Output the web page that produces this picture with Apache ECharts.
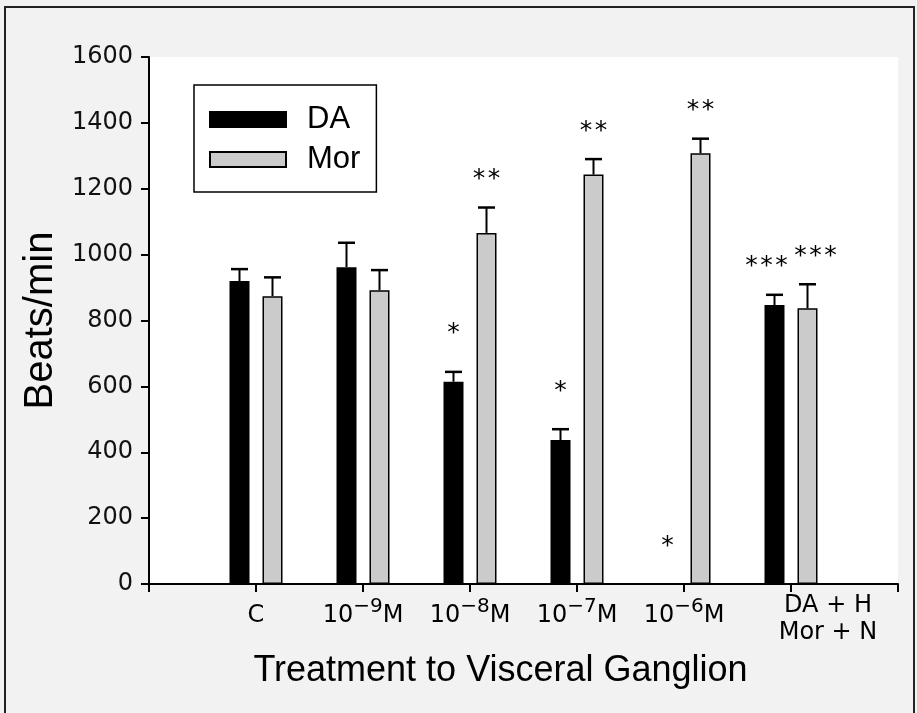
<!DOCTYPE html>
<html><head><meta charset="utf-8">
<script src="https://cdn.jsdelivr.net/npm/echarts@6/dist/echarts.min.js"></script>
<style>html,body{margin:0;padding:0;background:#f2f2f2}#c{width:917px;height:713px}</style>
</head><body><div id="c"></div>
<script>
// ---- data ----
const categories = ['C', '10^-9M', '10^-8M', '10^-7M', '10^-6M', 'DA + H\nMor + N'];
const seriesNames = ['DA', 'Mor'];
const daValues = [920, 962, 614, 437, 0, 847];
const daErrors = [36, 74, 30, 33, 0, 31];
const morValues = [874, 892, 1066, 1243, 1308, 837];
const morErrors = [57, 61, 77, 47, 44, 73];
const daMarks = ['', '', '*', '*', '*', '***'];
const morMarks = ['', '', '**', '**', '**', '***'];
const yTicks = [0, 200, 400, 600, 800, 1000, 1200, 1400, 1600];
const yTitle = 'Beats/min';
const xTitle = 'Treatment to Visceral Ganglion';

// ---- style ----
const TICK_FONT = '"DejaVu Sans", sans-serif';
const TITLE_FONT = '"Liberation Sans", Arial, sans-serif';
const BAR_W = 20, BAR_GAP_PX = 13;
const BAR_OFFSET = (BAR_W + BAR_GAP_PX) / 2;
const CAP_W = 17;
const STAR_FONT = 25, STAR_STEP = 15;

const axisCats = [''].concat(categories, ['']).map(c => {
  if (c.indexOf('\n') >= 0) {
    return { value: c, textStyle: { align: 'center', padding: [1, 0, 0, 74] } };
  }
  return c;
});

function fmtLabel(v) {
  if (!v) return '';
  if (v.indexOf('\n') >= 0) return v.split('\n').map(s => '{m|' + s + '}').join('\n');
  const m = v.match(/^(\d+)\^(-?\d+)(.*)$/);
  if (m) return '{n|' + m[1] + '}{s|' + m[2].replace('-', '\u2212') + '}{n|' + m[3] + '}';
  return '{n|' + v + '}';
}

function pad(arr) { return ['-'].concat(arr, ['-']); }

function errSeries(name, values, errors, marks, side) {
  return {
    type: 'custom', name: name + ' error', z: 5, silent: true,
    data: values.map((v, i) => [i + 1, v, errors[i]]),
    renderItem(params, api) {
      const i = params.dataIndex;
      const x = api.value(0), v = api.value(1), e = api.value(2);
      const base = api.coord([x, v]);
      const top = api.coord([x, v + e]);
      const cx = base[0] + side * BAR_OFFSET;
      const ch = [];
      if (e > 0) {
        ch.push({ type: 'line', shape: { x1: cx, y1: base[1], x2: cx, y2: top[1] }, style: { stroke: '#000', lineWidth: 2 } });
        ch.push({ type: 'line', shape: { x1: cx - CAP_W / 2, y1: top[1], x2: cx + CAP_W / 2, y2: top[1] }, style: { stroke: '#000', lineWidth: 2.5 } });
      }
      const mk = marks[i];
      if (mk) {
        const off = mk.length > 1 ? 28 : 38;
        const n = mk.length;
        // wide groups are nudged outward so neighbouring groups do not collide
        const shift = n >= 3 ? side * 8 : 0;
        for (let k = 0; k < n; k++) {
          const sx = cx + shift + (k - (n - 1) / 2) * STAR_STEP;
          ch.push({ type: 'text', style: { x: sx, y: top[1] - off, text: mk[k], fontSize: STAR_FONT, fontFamily: TICK_FONT, fill: '#000', align: 'center', verticalAlign: 'middle' } });
        }
      }
      return { type: 'group', children: ch };
    }
  };
}

const chart = echarts.init(document.getElementById('c'), null, { renderer: 'canvas' });
chart.setOption({
  backgroundColor: '#f2f2f2',
  animation: false,
  graphic: [{ type: 'rect', silent: true, shape: { x: 5, y: 7, width: 909, height: 720 }, style: { fill: 'none', stroke: '#222', lineWidth: 2 } }],
  grid: { left: 149, right: 19, top: 57, bottom: 129, show: true, backgroundColor: '#fff', borderWidth: 0 },
  legend: {
    data: seriesNames, orient: 'vertical', left: 194, top: 85,
    padding: [19, 16, 17, 15], itemGap: 9, itemWidth: 76, itemHeight: 15,
    backgroundColor: '#fff', borderColor: '#000', borderWidth: 1.5,
    icon: 'rect',
    textStyle: { fontFamily: TITLE_FONT, fontSize: 31, color: '#000', padding: [0, 0, 0, 16] }
  },
  xAxis: {
    type: 'category', data: axisCats, boundaryGap: false,
    name: xTitle, nameLocation: 'middle', nameGap: 69,
    nameTextStyle: { fontFamily: TITLE_FONT, fontSize: 36, color: '#000', padding: [0, 46, 0, 0] },
    axisLine: { lineStyle: { color: '#000', width: 2 } },
    axisTick: { interval: 0, length: 8, lineStyle: { color: '#000', width: 2 } },
    axisLabel: {
      interval: 0, margin: 7, color: '#000', formatter: fmtLabel,
      rich: {
        n: { fontFamily: TICK_FONT, fontSize: 24, color: '#000', padding: [13, 0, 0, 0], verticalAlign: 'bottom' },
        s: { fontFamily: TICK_FONT, fontSize: 20, color: '#000', padding: [6, 0, 0, 0], verticalAlign: 'top' },
        m: { fontFamily: TICK_FONT, fontSize: 24, color: '#000', lineHeight: 27 }
      }
    },
    splitLine: { show: false }
  },
  yAxis: {
    type: 'value', min: yTicks[0], max: yTicks[yTicks.length - 1], interval: yTicks[1] - yTicks[0],
    name: yTitle, nameLocation: 'middle', nameGap: 78,
    nameTextStyle: { fontFamily: TITLE_FONT, fontSize: 40, color: '#000' },
    axisLine: { show: true, lineStyle: { color: '#000', width: 2 } },
    axisTick: { show: true, length: 8, lineStyle: { color: '#000', width: 2 } },
    axisLabel: { margin: 16, fontFamily: TICK_FONT, fontSize: 24, color: '#111', formatter: v => String(v) },
    splitLine: { show: false }
  },
  series: [
    { type: 'bar', name: seriesNames[0], data: pad(daValues), barWidth: BAR_W, barGap: (BAR_GAP_PX / BAR_W * 100) + '%',
      itemStyle: { color: '#000', borderColor: '#000', borderWidth: 1.5 } },
    { type: 'bar', name: seriesNames[1], data: pad(morValues), barWidth: BAR_W,
      itemStyle: { color: '#cbcbcb', borderColor: '#000', borderWidth: 1.5 } },
    errSeries(seriesNames[0], daValues, daErrors, daMarks, -1),
    errSeries(seriesNames[1], morValues, morErrors, morMarks, 1)
  ]
});
</script></body></html>
